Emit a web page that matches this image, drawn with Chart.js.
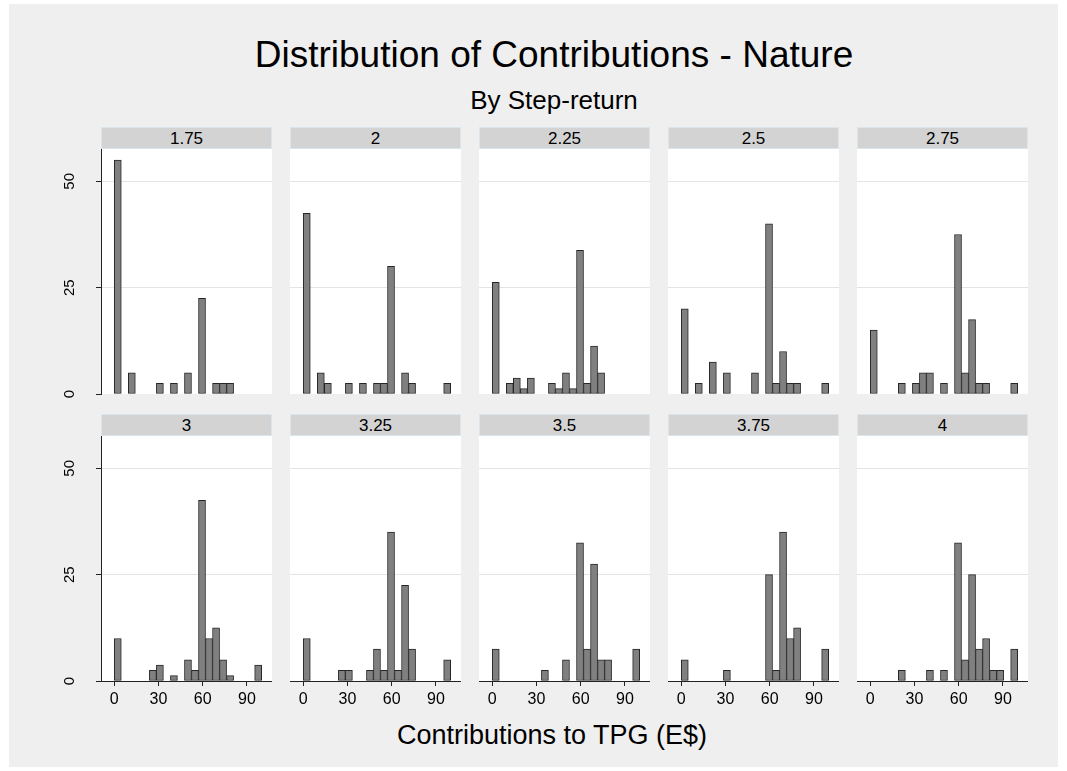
<!DOCTYPE html>
<html>
<head>
<meta charset="utf-8">
<script src="https://cdn.jsdelivr.net/npm/chart.js@4.4.0/dist/chart.umd.min.js"></script>
<style>
  html, body { margin: 0; padding: 0; background: #fff; }
  body { width: 1067px; height: 771px; position: relative; overflow: hidden; font-family: 'Liberation Sans', Arial, sans-serif; }
  #frame { position: absolute; left: 9px; top: 4px; width: 1049px; height: 763px; background: #efefef; }
  .txt { position: absolute; white-space: nowrap; line-height: 1; color: #000; text-align: center; }
  .strip { position: absolute; box-sizing: border-box; background: #d3d3d3; border: 1px solid #dbe6ec; font-size: 17px; line-height: 21px; text-align: center; color: #000; }
  canvas { position: absolute; }
</style>
</head>
<body>
<div id="frame"></div>
<div class="txt" style="left:54px; width:1000px; top:36px; font-size:37px;">Distribution of Contributions - Nature</div>
<div class="txt" style="left:54px; width:1000px; top:87px; font-size:26px;">By Step-return</div>
<div class="txt" style="left:52px; width:1000px; top:722px; font-size:27px;">Contributions to TPG (E$)</div>

<script>
// panel labels (step-return), bins, ticks
const panelLabels = ['1.75', '2', '2.25', '2.5', '2.75', '3', '3.25', '3.5', '3.75', '4'];
const nBins = 21;
const binWidth = 100 / nBins;
const binCenters = Array.from({ length: nBins }, (_, i) => (i + 0.5) * binWidth);
const xTicks = [0, 30, 60, 90];
const yTicks = [0, 25, 50];

// percent of subjects per bin
const pct175 = [55, 0, 5, 0, 0, 0, 2.5, 0, 2.5, 0, 5, 0, 22.5, 0, 2.5, 2.5, 2.5, 0, 0, 0, 0];
const pct200 = [42.5, 0, 5, 2.5, 0, 0, 2.5, 0, 2.5, 0, 2.5, 2.5, 30, 0, 5, 2.5, 0, 0, 0, 0, 2.5];
const pct225 = [26.25, 0, 2.5, 3.75, 1.25, 3.75, 0, 0, 2.5, 1.25, 5, 1.25, 33.75, 2.5, 11.25, 5, 0, 0, 0, 0, 0];
const pct250 = [20, 0, 2.5, 0, 7.5, 0, 5, 0, 0, 0, 5, 0, 40, 2.5, 10, 2.5, 2.5, 0, 0, 0, 2.5];
const pct275 = [15, 0, 0, 0, 2.5, 0, 2.5, 5, 5, 0, 2.5, 0, 37.5, 5, 17.5, 2.5, 2.5, 0, 0, 0, 2.5];
const pct300 = [10, 0, 0, 0, 0, 2.5, 3.75, 0, 1.25, 0, 5, 2.5, 42.5, 10, 12.5, 5, 1.25, 0, 0, 0, 3.75];
const pct325 = [10, 0, 0, 0, 0, 2.5, 2.5, 0, 0, 2.5, 7.5, 2.5, 35, 2.5, 22.5, 7.5, 0, 0, 0, 0, 5];
const pct350 = [7.5, 0, 0, 0, 0, 0, 0, 2.5, 0, 0, 5, 0, 32.5, 7.5, 27.5, 5, 5, 0, 0, 0, 7.5];
const pct375 = [5, 0, 0, 0, 0, 0, 2.5, 0, 0, 0, 0, 0, 25, 2.5, 35, 10, 12.5, 0, 0, 0, 7.5];
const pct400 = [0, 0, 0, 0, 2.5, 0, 0, 0, 2.5, 0, 2.5, 0, 32.5, 5, 25, 7.5, 10, 2.5, 2.5, 0, 7.5];
const series = [pct175, pct200, pct225, pct250, pct275, pct300, pct325, pct350, pct375, pct400];

const FONT = "'Liberation Sans', Arial, sans-serif";
const AXIS = '#222';

const plotBg = {
  id: 'plotBg',
  beforeDraw(chart) {
    const { ctx, chartArea: a } = chart;
    ctx.save();
    ctx.fillStyle = '#fff';
    ctx.fillRect(a.left, a.top, a.right - a.left, a.bottom - a.top);
    ctx.restore();
  }
};

// y labels are rotated like the original, so draw them here
const yLabels = {
  id: 'yLabels',
  afterDraw(chart, args, opts) {
    if (!opts.show) return;
    const { ctx, scales: { y } } = chart;
    ctx.save();
    ctx.fillStyle = '#000';
    ctx.font = '15px ' + FONT;
    ctx.textAlign = 'center';
    ctx.textBaseline = 'alphabetic';
    yTicks.forEach(v => {
      ctx.save();
      ctx.translate(chart.chartArea.left - 27, y.getPixelForValue(v));
      ctx.rotate(-Math.PI / 2);
      ctx.fillText(String(v), 0, 0);
      ctx.restore();
    });
    ctx.restore();
  }
};

function makePanel(idx) {
  const row = Math.floor(idx / 5), col = idx % 5;
  const left = 101 + col * 189;
  const top = row === 0 ? 149 : 436;
  const w = 171, h = 245;
  const yw = col === 0 ? 50 : 0;
  const xh = row === 1 ? 32 : 0;
  const padB = row === 0 ? 10 : 0;

  const strip = document.createElement('div');
  strip.className = 'strip';
  strip.style.left = left + 'px';
  strip.style.top = (top - 22) + 'px';
  strip.style.width = w + 'px';
  strip.style.height = '22px';
  strip.textContent = panelLabels[idx];
  document.body.appendChild(strip);

  const cv = document.createElement('canvas');
  cv.width = w + yw;
  cv.height = h + xh + padB;
  cv.style.left = (left - yw) + 'px';
  cv.style.top = top + 'px';
  document.body.appendChild(cv);

  const vals = series[idx];
  new Chart(cv, {
    type: 'bar',
    data: {
      datasets: [{
        data: binCenters.map((x, i) => ({ x: x, y: vals[i] > 0 ? vals[i] : null })),
        backgroundColor: '#808080',
        borderColor: '#262626',
        borderWidth: 1,
        borderSkipped: false,
        categoryPercentage: 1,
        barPercentage: 1
      }]
    },
    options: {
      responsive: false,
      animation: false,
      devicePixelRatio: 1,
      layout: { padding: { top: 0, left: 0, right: 0, bottom: padB } },
      plugins: {
        legend: { display: false },
        tooltip: { enabled: false },
        yLabels: { show: col === 0 }
      },
      scales: {
        x: {
          type: 'linear',
          min: -9,
          max: 107,
          offset: false,
          display: row === 1,
          afterBuildTicks: s => { s.ticks = xTicks.map(v => ({ value: v })); },
          afterFit: s => { s.height = xh; },
          grid: { offset: false, drawOnChartArea: false, drawTicks: true, tickLength: 5, tickColor: AXIS },
          border: { display: true, color: AXIS, width: 1 },
          ticks: { color: '#000', font: { family: FONT, size: 16 }, padding: 4, maxRotation: 0, autoSkip: false }
        },
        y: {
          type: 'linear',
          min: 0,
          max: 57.6,
          afterBuildTicks: s => { s.ticks = yTicks.map(v => ({ value: v })); },
          afterFit: s => { s.width = yw; },
          grid: {
            color: c => (c.tick && c.tick.value === 0) ? 'rgba(0,0,0,0)' : '#e4e4e4',
            lineWidth: 1,
            drawTicks: col === 0,
            tickLength: 5,
            tickColor: AXIS
          },
          border: { display: col === 0, color: AXIS, width: 1 },
          ticks: { display: false }
        }
      }
    },
    plugins: [plotBg, yLabels]
  });
}

panelLabels.forEach((_, i) => makePanel(i));
</script>
</body>
</html>
